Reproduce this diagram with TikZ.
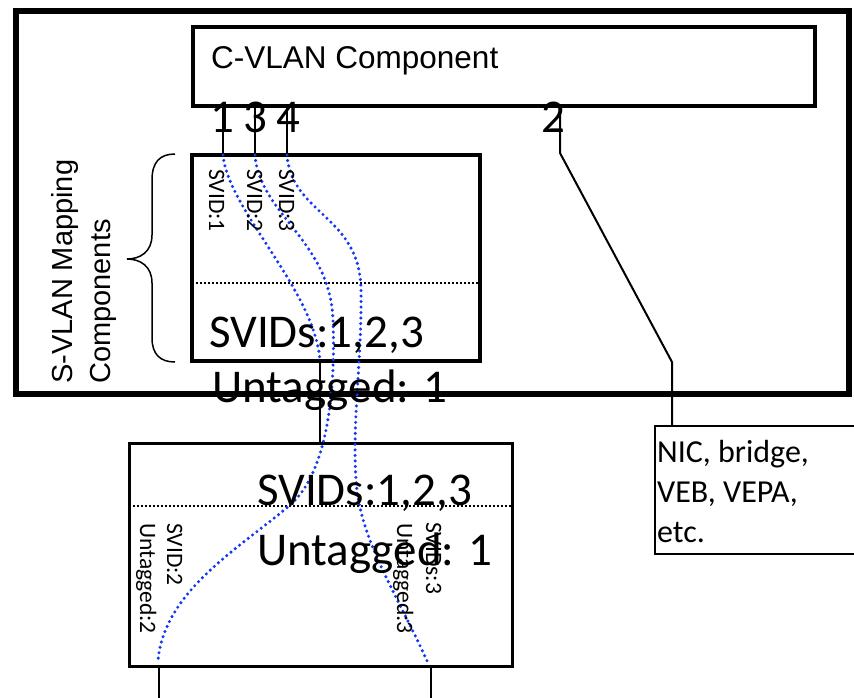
\documentclass[tikz,border=0pt]{standalone}
\usepackage{fontspec}
\setmainfont{Carlito}
\newfontfamily\arialfont{Liberation Sans}
\usepackage{xcolor}
\usepackage{tikz}
\usetikzlibrary{calc}
\definecolor{svidblue}{RGB}{20,55,245}

\begin{document}
\begin{tikzpicture}[x=1pt, y=-1pt,
	svid/.style={rotate=-90, anchor=base west, inner sep=0pt, font=\fontsize{23.5}{25}\selectfont},
	bigtxt/.style={anchor=base west, inner sep=0pt, font=\fontsize{47}{50}\selectfont},
	portnum/.style={anchor=base, inner sep=0pt, font=\fontsize{47}{48}\selectfont},
	arialtxt/.style={inner sep=0pt, font=\arialfont\fontsize{29}{31}\selectfont},
	wire/.style={line width=2pt},
	svidpath/.style={draw=svidblue, line width=3.4pt, line cap=round, dash pattern=on 0pt off 5.5pt},
	divider/.style={line width=1.8pt, dash pattern=on 2pt off 2pt}]

	\useasboundingbox (0,0) rectangle (854,697);

	\coordinate (O1) at (15.5,11);
	\coordinate (O2) at (849,394);
	\coordinate (C1) at (193,27);
	\coordinate (C2) at (815,106);
	\coordinate (M1) at (192,155);
	\coordinate (M2) at (480,361);
	\coordinate (L1) at (129,443);
	\coordinate (L2) at (512,666);
	\coordinate (N1) at (655,426);
	\coordinate (N2) at (880,554);

	% boxes
	\draw[line width=6pt] (O1) rectangle (O2);
	\draw[line width=4pt] (C1) rectangle (C2);
	\draw[line width=4pt] (M1) rectangle (M2);
	\draw[line width=3pt] (L1) rectangle (L2);
	\draw[line width=2.5pt] (N1) rectangle (N2);
	\draw[divider] ($ (M1)+(0,128) $) -- ($ (M2)+(0,-78) $);
	\draw[divider] ($ (L1)+(0,63) $) -- ($ (L2)+(0,-160) $);

	% ports
	\coordinate (p1) at (223,106);
	\coordinate (p3) at (255,106);
	\coordinate (p4) at (287,106);
	\coordinate (p2) at (560,106);
	\coordinate (m1) at (223,155);
	\coordinate (m3) at (255,155);
	\coordinate (m4) at (287,155);
	\coordinate (mu) at (320,361);
	\coordinate (lu) at (320,443);
	\coordinate (b2) at (159,666);
	\coordinate (b3) at (431,666);
	\coordinate (e2) at (159,700);
	\coordinate (e3) at (431,700);
	\coordinate (n2) at (672,426);

	\draw[wire] (p1) -- (m1);
	\draw[wire] (p3) -- (m3);
	\draw[wire] (p4) -- (m4);
	\draw[wire] (mu) -- (lu);
	\draw[wire] (b2) -- (e2);
	\draw[wire] (b3) -- (e3);
	\draw[wire] (p2) -- (560,153) -- (672,362) -- (n2);

	\node[portnum] (num1) at (222,132) {1};
	\node[portnum] (num3) at (255,132) {3};
	\node[portnum] (num4) at (288,132) {4};
	\node[portnum] (num2) at (553,132) {2};

	% S-VID paths
	\draw[svidpath] (m1) .. controls (228,210) and (315,290) .. (mu);
	\draw[svidpath] (m3) .. controls (260,215) and (330,240) .. (333,320)
		.. controls (336,400) and (325,475) .. (290,505)
		.. controls (240,548) and (165,590) .. (158,660);
	\draw[svidpath] (m4) .. controls (292,215) and (360,215) .. (361,290)
		.. controls (362,360) and (352,420) .. (356,480)
		.. controls (360,540) and (395,590) .. (428,663);

	% brace
	\draw[line width=1.5pt] (175,154) .. controls (160,154) and (152,162) .. (152,180) -- (152,235)
		.. controls (152,252) and (140,259) .. (127,259) .. controls (140,259) and (152,266) .. (152,283)
		-- (152,338) .. controls (152,354) and (160,362) .. (175,362);

	% texts
	\node[arialtxt, anchor=base west, font=\arialfont\fontsize{31.5}{33}\selectfont] (cvlan) at (211,68) {C-VLAN Component};
	\node[arialtxt, rotate=90, anchor=base west] (smap) at (72,384) {S-VLAN Mapping};
	\node[arialtxt, rotate=90, anchor=base west] (scomp) at (110,384) {Components};

	\node[svid] (sv1) at (209,169) {SVID:1};
	\node[svid] (sv2) at (247,169) {SVID:2};
	\node[svid] (sv3) at (279,169) {SVID:3};

	\node[bigtxt] (msvids) at (209,347) {SVIDs:1,2,3};
	\node[bigtxt] (muntag) at (212,402) {Untagged: 1};
	\node[bigtxt] (lsvids) at (257,505) {SVIDs:1,2,3};
	\node[bigtxt] (luntag) at (257,565) {Untagged: 1};

	\node[svid] (lu2) at (140,523) {Untagged:2};
	\node[svid] (ls2) at (167,523) {SVID:2};
	\node[svid] (lu3) at (397,523) {Untagged:3};
	\node[svid] (ls3) at (426,522) {SVIDs:3};

	\node[anchor=north west, inner sep=0pt, align=left, font=\fontsize{32}{40}\selectfont] (nic) at (657,440) {NIC, bridge,\\VEB, VEPA,\\etc.};

\end{tikzpicture}
\end{document}
